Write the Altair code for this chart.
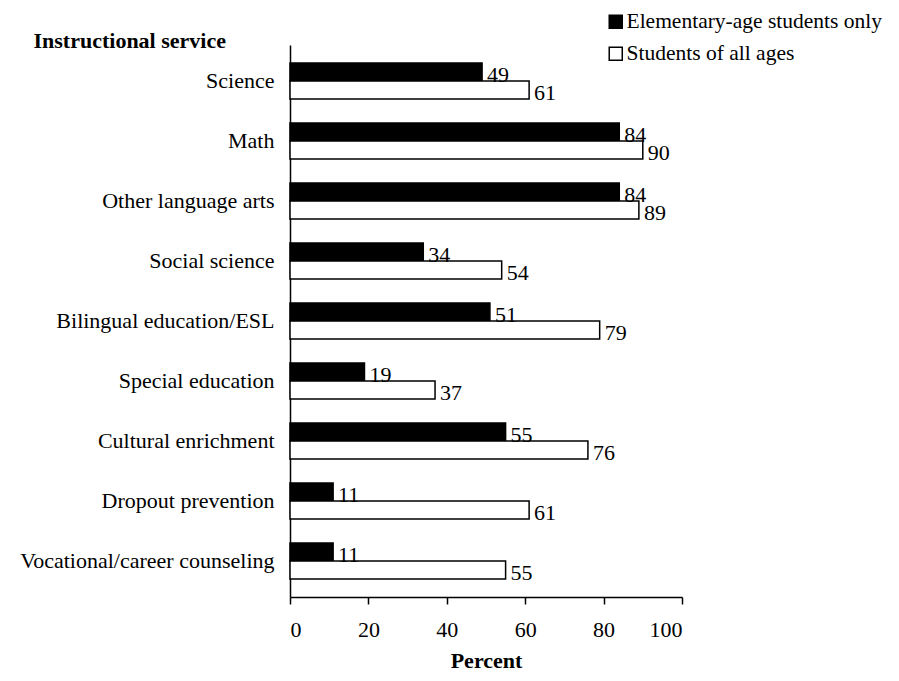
import altair as alt
import pandas as pd

categories = ["Science", "Math", "Other language arts", "Social science",
              "Bilingual education/ESL", "Special education", "Cultural enrichment",
              "Dropout prevention", "Vocational/career counseling"]
elementary = [49, 84, 84, 34, 51, 19, 55, 11, 11]
all_ages = [61, 90, 89, 54, 79, 37, 76, 61, 55]
series = ["Elementary-age students only", "Students of all ages"]

rows = []
for c, e, a in zip(categories, elementary, all_ages):
    rows.append({"service": c, "series": series[0], "value": e})
    rows.append({"service": c, "series": series[1], "value": a})
df = pd.DataFrame(rows)

FONT = "Liberation Serif"
FS = 22

y_enc = alt.Y("service:N", sort=categories, title="Instructional service",
              scale=alt.Scale(paddingInner=0.4, paddingOuter=0.3),
              axis=alt.Axis(labelFont=FONT, labelFontSize=FS, labelColor="black",
                            labelPadding=16, ticks=False, domainColor="black",
                            domainWidth=1.5, labelLimit=400,
                            titleFont=FONT, titleFontSize=FS, titleFontWeight="bold",
                            titleColor="black", titleAngle=0, titleAlign="left",
                            titleBaseline="alphabetic", titleX=-257, titleY=2))
yoff = alt.YOffset("series:N", sort=series)

bars = alt.Chart(df).mark_bar(stroke="black", strokeWidth=1.5).encode(
    x=alt.X("value:Q", scale=alt.Scale(domain=[0, 100]),
            axis=alt.Axis(values=[0, 20, 40, 60, 80, 100], title="Percent",
                          labelFont=FONT, labelFontSize=FS, labelColor="black",
                          titleFont=FONT, titleFontSize=FS, titleFontWeight="bold",
                          titleColor="black", titleBaseline="alphabetic", titleY=70,
                          tickColor="black", tickSize=7,
                          tickWidth=1.5, domainColor="black", domainWidth=1.5,
                          grid=False, labelPadding=15)),
    y=y_enc,
    yOffset=yoff,
    fill=alt.Fill("series:N", sort=series,
                  scale=alt.Scale(domain=series, range=["black", "white"]),
                  legend=alt.Legend(title=None, orient="none", legendX=315, legendY=-34,
                                    labelFont=FONT, labelFontSize=21.5, labelColor="black",
                                    symbolType="square", symbolSize=170,
                                    symbolStrokeColor="black", symbolStrokeWidth=1.5,
                                    labelOffset=0, rowPadding=9, labelLimit=400)),
)

labels = alt.Chart(df).mark_text(align="left", baseline="middle", dx=5, dy=3,
                                 font=FONT, fontSize=FS, color="black").encode(
    x="value:Q",
    y=alt.Y("service:N", sort=categories),
    yOffset=yoff,
    text="value:Q",
)

chart = (bars + labels).properties(
    width=392, height=552,
    autosize=alt.AutoSizeParams(type="none"),
    padding={"left": 282, "top": 37, "right": 209, "bottom": 76},
).configure_view(stroke=None)

chart.save("out.html", embed_options={"renderer": "svg", "actions": False})
